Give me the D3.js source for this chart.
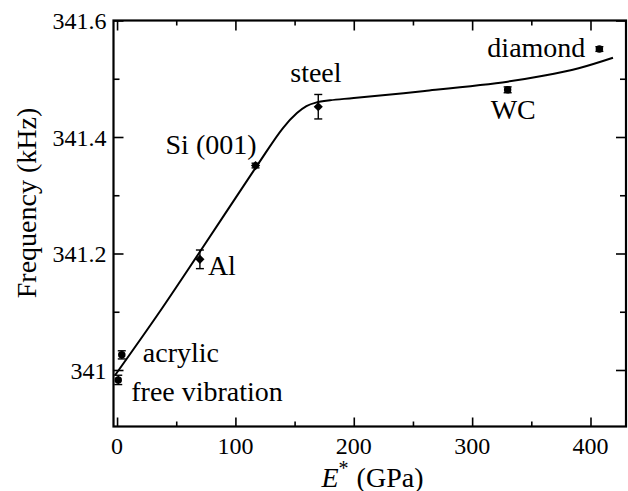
<!DOCTYPE html>
<html>
<head>
<meta charset="utf-8">
<script src="https://cdn.jsdelivr.net/npm/d3@7"></script>
<style>
  body { margin: 0; background: #fff; }
</style>
</head>
<body>
<div id="chart"></div>
<script>
// measured points
const materials = ["free vibration", "acrylic", "Al", "Si (001)", "steel", "WC", "diamond"];
const modulus = [1, 4, 70, 117, 170, 330, 407.5];            // E* (GPa)
const frequency = [340.983, 341.026, 341.19, 341.351, 341.452, 341.481, 341.551]; // kHz
const freqError = [0.008, 0.007, 0.016, 0.004, 0.021, 0.005, 0.004];

// model curve
const curveE = [-1.7, 35, 70, 118, 140, 152, 160, 168, 180, 200, 260, 330, 360, 390, 419];
const curveF = [340.991, 341.097, 341.203, 341.35, 341.415, 341.441, 341.453, 341.459, 341.463, 341.467, 341.479, 341.495, 341.505, 341.518, 341.536];

const xTicks = [0, 100, 200, 300, 400];
const xMinor = [50, 150, 250, 350];
const yTicks = [341, 341.2, 341.4, 341.6];
const yMinor = [341.1, 341.3, 341.5];

var FONT = "Liberation Serif, DejaVu Serif";

var W = 628, H = 491;
var margin = {top: 20.5, right: 2, bottom: 64.5, left: 113.5},
    width = W - margin.left - margin.right,
    height = H - margin.top - margin.bottom;

var svg = d3.select("#chart").append("svg")
    .attr("width", W)
    .attr("height", H)
  .append("g")
    .attr("transform", "translate(" + margin.left + "," + margin.top + ")");

var x = d3.scaleLinear().domain([-3, 430]).range([0, width]);
var y = d3.scaleLinear().domain([340.903, 341.6]).range([height, 0]);

// inward ticks on all four sides
function tickAxis(axis, scale, ticks, len, transform) {
  svg.append("g")
      .attr("transform", transform)
      .call(axis(scale).tickValues(ticks).tickSize(len).tickFormat(""))
      .call(g => g.select(".domain").remove())
      .selectAll("line").attr("stroke", "#000").attr("stroke-width", 1.6);
}
tickAxis(d3.axisTop, x, xTicks, 9, "translate(0," + height + ")");
tickAxis(d3.axisTop, x, xMinor, 5, "translate(0," + height + ")");
tickAxis(d3.axisBottom, x, xTicks, 10, "translate(0,0)");
tickAxis(d3.axisBottom, x, xMinor, 5, "translate(0,0)");
tickAxis(d3.axisRight, y, yTicks, 10, "translate(0,0)");
tickAxis(d3.axisRight, y, yMinor, 6, "translate(0,0)");
tickAxis(d3.axisLeft, y, yTicks, 10, "translate(" + width + ",0)");
tickAxis(d3.axisLeft, y, yMinor, 6, "translate(" + width + ",0)");

// frame
svg.append("rect")
    .attr("width", width)
    .attr("height", height)
    .attr("fill", "none")
    .attr("stroke", "#000")
    .attr("stroke-width", 2.2);

// tick labels
svg.append("g").selectAll("text")
    .data(xTicks)
    .enter().append("text")
    .attr("x", d => x(d))
    .attr("y", height + 27)
    .attr("text-anchor", "middle")
    .style("font-family", FONT)
    .style("font-size", "24px")
    .text(d => d);

svg.append("g").selectAll("text")
    .data(yTicks)
    .enter().append("text")
    .attr("x", -7)
    .attr("y", d => y(d))
    .attr("dy", "0.36em")
    .attr("text-anchor", "end")
    .style("font-family", FONT)
    .style("font-size", "24px")
    .text(d => d3.format("")(d));

// axis titles
var xt = svg.append("text")
    .attr("x", 208)
    .attr("y", height + 60)
    .style("font-family", FONT)
    .style("font-size", "28px");
xt.append("tspan").style("font-style", "italic").text("E");
xt.append("tspan").attr("dy", -12).style("font-size", "20px").text("*");
xt.append("tspan").attr("dy", 12).attr("dx", 8).text("(GPa)");

svg.append("text")
    .attr("transform", "rotate(-90)")
    .attr("x", -(203 - margin.top))
    .attr("y", 36 - margin.left)
    .attr("text-anchor", "middle")
    .style("font-family", FONT)
    .style("font-size", "28px")
    .text("Frequency (kHz)");

// model curve
var curvePts = curveE.map((e, i) => [e, curveF[i]]);
svg.append("path")
    .datum(curvePts)
    .attr("fill", "none")
    .attr("stroke", "#000")
    .attr("stroke-width", 2)
    .attr("d", d3.line().x(d => x(d[0])).y(d => y(d[1])).curve(d3.curveCatmullRom.alpha(0.5)));

// points with error bars
var pts = materials.map((m, i) => ({name: m, e: modulus[i], f: frequency[i], err: freqError[i]}));
var diamondMarked = new Set(["Al", "Si (001)", "steel"]);

var bars = svg.append("g").attr("stroke", "#000").attr("stroke-width", 1.4);
pts.forEach(d => {
  var cx = x(d.e), y0 = y(d.f - d.err), y1 = y(d.f + d.err);
  bars.append("line").attr("x1", cx).attr("x2", cx).attr("y1", y0).attr("y2", y1);
  bars.append("line").attr("x1", cx - 4).attr("x2", cx + 4).attr("y1", y0).attr("y2", y0);
  bars.append("line").attr("x1", cx - 4).attr("x2", cx + 4).attr("y1", y1).attr("y2", y1);
});

svg.append("g").selectAll("path")
    .data(pts)
    .enter().append("path")
    .attr("transform", d => "translate(" + x(d.e) + "," + y(d.f) + ")" + (diamondMarked.has(d.name) ? " rotate(45)" : ""))
    .attr("d", d => d3.symbol().type(diamondMarked.has(d.name) ? d3.symbolSquare : d3.symbolCircle).size(diamondMarked.has(d.name) ? 42 : 44)())
    .attr("fill", "#000");

// annotations (pixel offsets from each point)
var labelOffset = {
  "free vibration": [13, 21, "start"],
  "acrylic": [21, 7, "start"],
  "Al": [8, 16, "start"],
  "Si (001)": [-90, -12, "start"],
  "steel": [-28, -25, "start"],
  "WC": [-17, 29, "start"],
  "diamond": [-14, 8, "end"]
};
svg.append("g").selectAll("text")
    .data(pts)
    .enter().append("text")
    .attr("x", d => x(d.e) + labelOffset[d.name][0])
    .attr("y", d => y(d.f) + labelOffset[d.name][1])
    .attr("text-anchor", d => labelOffset[d.name][2])
    .style("font-family", FONT)
    .style("font-size", "28px")
    .text(d => d.name);
</script>
</body>
</html>
